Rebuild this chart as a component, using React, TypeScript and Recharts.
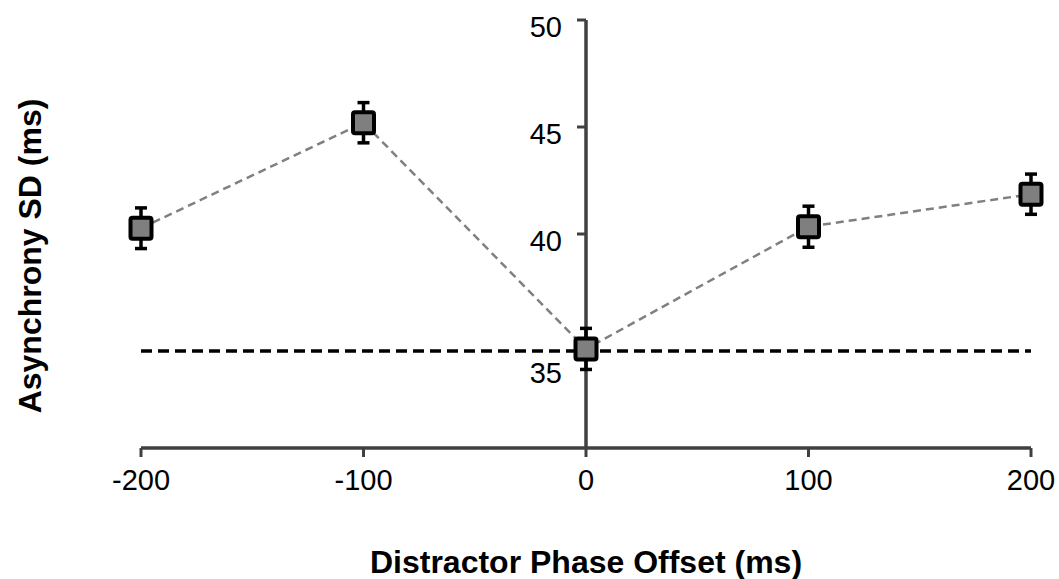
import {
  ErrorBar,
  Line,
  LineChart,
  ReferenceLine,
  XAxis,
  YAxis,
} from "recharts";

const offsets = [-200, -100, 0, 100, 200];
const asynchronySd = [40.27, 45.2, 34.63, 40.34, 41.86];
const errors = [0.95, 0.94, 0.96, 0.96, 0.94];
const baseline = 34.53;
const xTicks = [-200, -100, 0, 100, 200];
const yTicks = [35, 40, 45, 50];

const W = 1059;
const H = 579;
const LEFT = 141;
const RIGHT = 28;
const TOP = 20;
const X_DOMAIN: [number, number] = [-200, 200];
const Y_DOMAIN: [number, number] = [30, 50];
const FONT = "'Liberation Sans', Arial, sans-serif";
const AXIS = "#404040";

// y axis sits at x = 0 inside the plot, not at the left edge
const plotW = W - LEFT - RIGHT;
const axisX = LEFT + (plotW * (0 - X_DOMAIN[0])) / (X_DOMAIN[1] - X_DOMAIN[0]);

const chartData = offsets.map((o, i) => ({
  offset: o,
  sd: asynchronySd[i],
  err: errors[i],
}));

function YTick(props: any) {
  const { y, payload } = props;
  // the 35 label was nudged below the dashed line in the original
  const labelDy = payload.value === 35 ? 42 : 17;
  return (
    <g>
      {payload.value !== 35 && (
        <line x1={axisX - 9} x2={axisX} y1={y} y2={y} stroke={AXIS} strokeWidth={3} />
      )}
      <text
        x={axisX - 24}
        y={y + labelDy}
        textAnchor="end"
        fontSize={29}
        fontFamily={FONT}
        fill="#000"
      >
        {payload.value}
      </text>
    </g>
  );
}

function SquareDot(props: any) {
  const { cx, cy } = props;
  if (cx == null || cy == null) return null;
  return (
    <rect
      x={cx - 10.5}
      y={cy - 10.5}
      width={21}
      height={21}
      rx={2}
      fill="#7f7f7f"
      stroke="#000"
      strokeWidth={4}
    />
  );
}

export default function App() {
  return (
    <div style={{ position: "absolute", left: 0, top: 0, width: W, height: H, background: "#fff" }}>
      <LineChart
        width={W}
        height={H}
        data={chartData}
        margin={{ top: TOP, right: RIGHT, bottom: 0, left: 0 }}
      >
        <XAxis
          dataKey="offset"
          type="number"
          domain={X_DOMAIN}
          ticks={xTicks}
          height={131}
          axisLine={{ stroke: AXIS, strokeWidth: 3.5 }}
          tickLine={{ stroke: AXIS, strokeWidth: 3 }}
          tickSize={9}
          tickMargin={12}
          tick={{ fontSize: 29, fill: "#000", fontFamily: FONT }}
          label={{
            content: () => (
              <text
                x={axisX}
                y={573}
                textAnchor="middle"
                fontSize={32}
                fontWeight="bold"
                fontFamily={FONT}
                fill="#000"
              >
                Distractor Phase Offset (ms)
              </text>
            ),
          }}
        />
        <YAxis
          type="number"
          domain={Y_DOMAIN}
          ticks={yTicks}
          width={LEFT}
          axisLine={false}
          tickLine={false}
          tick={<YTick />}
          label={{
            content: () => (
              <text
                x={41}
                y={256}
                transform="rotate(-90 41 256)"
                textAnchor="middle"
                fontSize={32}
                fontWeight="bold"
                fontFamily={FONT}
                fill="#000"
              >
                Asynchrony SD (ms)
              </text>
            ),
          }}
        />
        <ReferenceLine x={0} stroke={AXIS} strokeWidth={3.5} />
        <ReferenceLine
          y={baseline}
          stroke="#000"
          strokeWidth={3.5}
          strokeDasharray="11 6"
        />
        <Line
          dataKey="sd"
          type="linear"
          stroke="#808080"
          strokeWidth={2.5}
          strokeDasharray="8 5"
          dot={<SquareDot />}
          activeDot={false}
          isAnimationActive={false}
        >
          <ErrorBar dataKey="err" direction="y" width={6} stroke="#000" strokeWidth={3.5} />
        </Line>
      </LineChart>
    </div>
  );
}
